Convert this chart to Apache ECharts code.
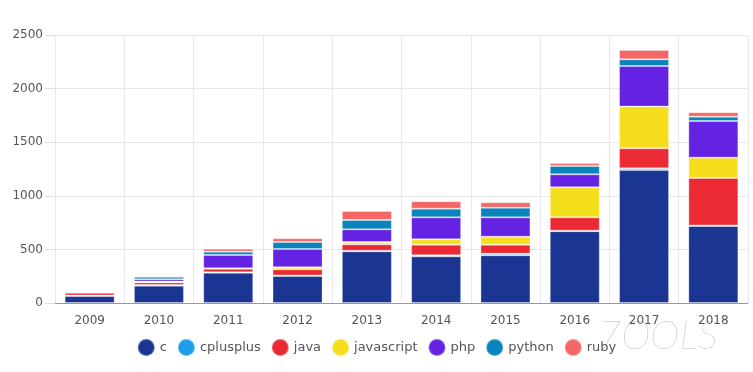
<!DOCTYPE html>
<html>
<head>
<meta charset="utf-8">
<script src="https://cdn.jsdelivr.net/npm/echarts@6/dist/echarts.min.js"></script>
<style>html,body{margin:0;padding:0;background:#fff}#main{width:753px;height:372px}</style>
</head>
<body>
<div id="main"></div>
<script>
const years = ['2009','2010','2011','2012','2013','2014','2015','2016','2017','2018'];
const cData = [66, 162, 283, 252, 482, 435, 445, 670, 1241, 718];
const cplusplusData = [3, 5, 4, 5, 5, 10, 15, 5, 15, 5];
const javaData = [26, 25, 33, 57, 60, 99, 84, 124, 187, 443];
const javascriptData = [2, 8, 3, 19, 22, 50, 75, 280, 389, 190];
const phpData = [6, 22, 125, 171, 118, 205, 180, 121, 379, 342];
const pythonData = [3, 22, 31, 65, 87, 81, 90, 78, 62, 40];
const rubyData = [4, 9, 28, 34, 84, 69, 50, 28, 87, 41];
const seriesNames = ['c','cplusplus','java','javascript','php','python','ruby'];
const seriesValues = [cData, cplusplusData, javaData, javascriptData, phpData, pythonData, rubyData];
const colors = ['#1b3593','#1e9ee8','#ec2a34','#f5df1c','#6423e2','#0984bd','#f36767'];

const chart = echarts.init(document.getElementById('main'));
chart.setOption({
  animation: false,
  color: colors,
  textStyle: {fontFamily: 'DejaVu Sans, sans-serif'},
  grid: {left: 55, right: 5, top: 35, bottom: 69},
  legend: {
    bottom: 10, left: 'center', icon: 'circle', itemWidth: 17, itemHeight: 17, itemGap: 10,
    textStyle: {fontSize: 13, color: '#555'},
    data: seriesNames
  },
  xAxis: {
    type: 'category', data: years,
    axisLine: {lineStyle: {color: '#999'}},
    axisTick: {length: 10, lineStyle: {color: '#ddd'}},
    axisLabel: {fontSize: 12, color: '#555', margin: 12},
    splitLine: {show: true, lineStyle: {color: '#e8e8e8'}}
  },
  yAxis: {
    type: 'value', min: 0, max: 2500, interval: 500,
    axisLine: {show: false},
    axisTick: {show: true, length: 10, lineStyle: {color: '#ddd'}},
    axisLabel: {fontSize: 12, color: '#555', margin: 12, formatter: v => String(v)},
    splitLine: {lineStyle: {color: '#e8e8e8'}}
  },
  graphic: [{
    type: 'text', left: 598, top: 316, silent: true,
    style: {text: '7OOLS', fontSize: 40, fontStyle: 'italic', fontWeight: 'lighter', fill: 'rgba(140,140,140,0.6)', fontFamily: 'Lato, sans-serif'}
  }],
  series: seriesNames.map((n, i) => ({
    name: n, type: 'bar', stack: 'total', barWidth: 50,
    itemStyle: {borderColor: 'rgba(255,255,255,0.3)', borderWidth: 1},
    data: seriesValues[i]
  }))
});
</script>
</body>
</html>
